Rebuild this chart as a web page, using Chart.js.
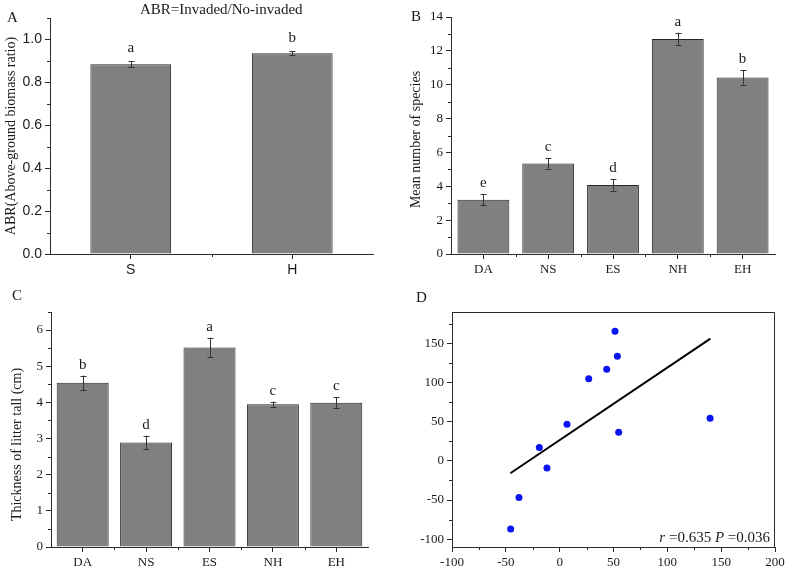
<!DOCTYPE html>
<html><head><meta charset="utf-8">
<script src="https://cdn.jsdelivr.net/npm/chart.js@4.4.0/dist/chart.umd.min.js"></script>
<style>
html,body{margin:0;padding:0;background:#fff;}
#wrap{position:relative;width:787px;height:570px;overflow:hidden;background:#fff;}
.panel{position:absolute;}
.txt{position:absolute;font-family:"Liberation Serif",serif;color:#1a1a1a;line-height:1;white-space:nowrap;}
</style></head><body>
<div id="wrap">
  <div class="panel" style="left:0;top:0"><canvas id="cA" width="390" height="280"></canvas></div>
  <div class="panel" style="left:390px;top:0"><canvas id="cB" width="397" height="280"></canvas></div>
  <div class="panel" style="left:0;top:280px"><canvas id="cC" width="390" height="290"></canvas></div>
  <div class="panel" style="left:390px;top:280px"><canvas id="cD" width="397" height="290"></canvas></div>
  <div class="txt" style="left:7px;top:10px;font-size:15px">A</div>
  <div class="txt" style="left:411px;top:9px;font-size:15px">B</div>
  <div class="txt" style="left:12px;top:288px;font-size:15px">C</div>
  <div class="txt" style="left:416px;top:290px;font-size:15px">D</div>
  <div class="txt" style="left:140px;top:2px;font-size:15px">ABR=Invaded/No-invaded</div>
</div>
<script>
// ---------- data ----------
const abrCategories = ['S', 'H'];
const abrValues = [0.885, 0.936];
const abrErrors = [0.014, 0.010];
const abrLetters = ['a', 'b'];
const abrTicks = [0, 0.2, 0.4, 0.6, 0.8, 1.0];
const abrMinorTicks = [0.1, 0.3, 0.5, 0.7, 0.9, 1.1];

const siteCategories = ['DA', 'NS', 'ES', 'NH', 'EH'];
const speciesValues = [3.2, 5.35, 4.08, 12.7, 10.43];
const speciesErrors = [0.33, 0.30, 0.33, 0.37, 0.42];
const speciesLetters = ['e', 'c', 'd', 'a', 'b'];
const speciesTicks = [0, 2, 4, 6, 8, 10, 12, 14];
const speciesMinorTicks = [1, 3, 5, 7, 9, 11, 13];

const litterValues = [4.54, 2.89, 5.52, 3.95, 3.99];
const litterErrors = [0.20, 0.19, 0.27, 0.07, 0.15];
const litterLetters = ['b', 'd', 'a', 'c', 'c'];
const litterTicks = [0, 1, 2, 3, 4, 5, 6];
const litterMinorTicks = [0.5, 1.5, 2.5, 3.5, 4.5, 5.5, 6.5];

const siteBoundaries = [0.5, 1.5, 2.5, 3.5];
const abrBoundaries = [0.5];

const scatterX = [-45.5, -37.8, -18.9, -11.8, 6.8, 27, 43.7, 51.4, 53.6, 54.8, 139.7];
const scatterY = [-87, -46.9, 17, -9, 46.8, 104.9, 116.8, 165.3, 133.4, 36.6, 54.5];
const fitLineX = [-45.8, 140];
const fitLineY = [-15.8, 156];
const corrR = '0.635';
const corrP = '0.036';
const dXTicks = [-100, -50, 0, 50, 100, 150, 200];
const dXMinorTicks = [-75, -25, 25, 75, 125, 175];
const dYTicks = [-100, -50, 0, 50, 100, 150];
const dYMinorTicks = [-75, -25, 25, 75, 125, 175];

// ---------- helpers ----------
const SERIF = '"Liberation Serif", "Times New Roman", serif';
const SANS = '"Liberation Sans", Arial, sans-serif';
const AXIS = '#2b2b2b';

function fixSize(size, ticks) {
  return {
    afterFit(scale) {
      if (scale.isHorizontal()) scale.height = size; else scale.width = size;
      scale.paddingLeft = 0; scale.paddingRight = 0; scale.paddingTop = 0; scale.paddingBottom = 0;
    },
    afterBuildTicks(scale) {
      if (ticks) scale.ticks = ticks.map(v => ({value: v}));
    }
  };
}

const minorTickPlugin = {
  id: 'minorTicks',
  afterDraw(chart, args, opts) {
    const ctx = chart.ctx;
    ctx.save();
    ctx.strokeStyle = AXIS;
    ctx.lineWidth = 1;
    for (const id of Object.keys(opts.values || {})) {
      const s = chart.scales[id];
      if (!s) continue;
      ctx.beginPath();
      opts.values[id].forEach(v => {
        const p = Math.round(s.getPixelForValue(v)) + 0.5;
        if (s.isHorizontal()) { ctx.moveTo(p, s.top); ctx.lineTo(p, s.top + 3); }
        else { ctx.moveTo(s.right, p); ctx.lineTo(s.right - 3, p); }
      });
      ctx.stroke();
    }
    ctx.restore();
  }
};

const errorBarPlugin = {
  id: 'errorBars',
  afterDatasetsDraw(chart, args, opts) {
    if (!opts.errors) return;
    const ctx = chart.ctx;
    const meta = chart.getDatasetMeta(0);
    const ys = chart.scales.y;
    const vals = chart.data.datasets[0].data;
    ctx.save();
    meta.data.forEach((bar, i) => {
      const x = Math.round(bar.x) + 0.5;
      const top = ys.getPixelForValue(vals[i] + opts.errors[i]);
      const bot = ys.getPixelForValue(vals[i] - opts.errors[i]);
      ctx.strokeStyle = '#333';
      ctx.lineWidth = 1;
      ctx.beginPath();
      ctx.moveTo(x, top); ctx.lineTo(x, bot);
      ctx.moveTo(x - 3, Math.round(top) + 0.5); ctx.lineTo(x + 3, Math.round(top) + 0.5);
      ctx.moveTo(x - 3, Math.round(bot) + 0.5); ctx.lineTo(x + 3, Math.round(bot) + 0.5);
      ctx.stroke();
      if (opts.letters) {
        ctx.fillStyle = '#1a1a1a';
        ctx.font = '15px ' + SERIF;
        ctx.textAlign = 'center';
        ctx.textBaseline = 'alphabetic';
        ctx.fillText(opts.letters[i], bar.x, top - opts.gap);
      }
    });
    ctx.restore();
  }
};

const yTitlePlugin = {
  id: 'yTitle',
  afterDraw(chart, args, o) {
    if (!o.text) return;
    const s = chart.scales.y;
    const ctx = chart.ctx;
    ctx.save();
    ctx.font = o.font;
    ctx.fillStyle = '#1a1a1a';
    ctx.textAlign = 'center';
    ctx.textBaseline = 'middle';
    ctx.translate(o.x, (s.top + s.bottom) / 2 + (o.dy || 0));
    ctx.rotate(-Math.PI / 2);
    ctx.fillText(o.text, 0, 0);
    ctx.restore();
  }
};

const boxPlugin = {
  id: 'frameBox',
  afterDraw(chart, args, o) {
    if (!o.show) return;
    const a = chart.chartArea;
    const ctx = chart.ctx;
    ctx.save();
    ctx.strokeStyle = AXIS;
    ctx.lineWidth = 1;
    ctx.beginPath();
    ctx.moveTo(Math.round(a.left) + 0.5, Math.round(a.top) + 0.5);
    ctx.lineTo(Math.round(a.right) - 0.5, Math.round(a.top) + 0.5);
    ctx.lineTo(Math.round(a.right) - 0.5, Math.round(a.bottom));
    ctx.stroke();
    if (o.stats) {
      const segs = o.stats;
      let total = 0;
      segs.forEach(sg => { ctx.font = (sg.italic ? 'italic ' : '') + '15px ' + SERIF; total += ctx.measureText(sg.t).width; });
      let x = a.right - 5 - total;
      const y = a.bottom - 5;
      ctx.fillStyle = '#1a1a1a';
      ctx.textBaseline = 'alphabetic';
      ctx.textAlign = 'left';
      segs.forEach(sg => {
        ctx.font = (sg.italic ? 'italic ' : '') + '15px ' + SERIF;
        ctx.fillText(sg.t, x, y);
        x += ctx.measureText(sg.t).width;
      });
    }
    ctx.restore();
  }
};

Chart.register(minorTickPlugin, errorBarPlugin, yTitlePlugin, boxPlugin);

function axisCommon(fontFamily, size, extra) {
  return Object.assign({
    border: {display: true, color: AXIS, width: 1},
    grid: {display: true, drawOnChartArea: false, drawTicks: true, tickLength: 5, color: AXIS, tickColor: AXIS, offset: false},
    ticks: {color: '#1a1a1a', font: {family: fontFamily, size: size}, padding: 3, maxRotation: 0, autoSkip: false}
  }, extra);
}

function barChart(id, cats, vals, errs, letters, opt) {
  return new Chart(document.getElementById(id), {
    type: 'bar',
    data: {
      labels: cats,
      datasets: [{
        data: vals,
        backgroundColor: '#808080',
        borderColor: '#262626',
        borderWidth: 1,
        barPercentage: opt.barPct,
        categoryPercentage: 1
      }]
    },
    options: {
      responsive: false,
      animation: false,
      layout: {padding: opt.padding},
      plugins: {
        legend: {display: false},
        tooltip: {enabled: false},
        minorTicks: {values: {x: opt.xMinor, y: opt.yMinor}},
        errorBars: {errors: errs, letters: letters, gap: opt.gap},
        yTitle: {text: opt.yTitle, font: '14px ' + SERIF, x: opt.titleX, dy: opt.titleDy || 0}
      },
      scales: {
        x: Object.assign(axisCommon(opt.xFont, opt.fontSize), fixSize(opt.xH, null)),
        y: Object.assign(axisCommon(opt.yFont, opt.fontSize, {min: 0, max: opt.yMax}), fixSize(opt.yW, opt.yTicks))
      }
    }
  });
}

// Panel A
const chartA = barChart('cA', abrCategories, abrValues, abrErrors, abrLetters, {
  barPct: 0.5, padding: {left: 0, top: 18, right: 17, bottom: 0},
  xMinor: abrBoundaries, yMinor: abrMinorTicks, gap: 9,
  yTitle: 'ABR(Above-ground biomass ratio)', titleX: 11,
  xFont: SANS, yFont: SANS, fontSize: 14, xH: 26, yW: 50, yMax: 1.1, yTicks: abrTicks
});
chartA.options.scales.y.ticks.callback = v => Number(v).toFixed(1);
chartA.update('none');

// Panel B
barChart('cB', siteCategories, speciesValues, speciesErrors, speciesLetters, {
  barPct: 0.8, padding: {left: 0, top: 17, right: 12, bottom: 0},
  xMinor: siteBoundaries, yMinor: speciesMinorTicks, gap: 7,
  yTitle: 'Mean number of species', titleX: 26, titleDy: 4,
  xFont: SERIF, yFont: SERIF, fontSize: 13, xH: 26, yW: 61, yMax: 14, yTicks: speciesTicks
});

// Panel C
barChart('cC', siteCategories, litterValues, litterErrors, litterLetters, {
  barPct: 0.82, padding: {left: 0, top: 32, right: 22, bottom: 0},
  xMinor: siteBoundaries, yMinor: litterMinorTicks, gap: 7,
  yTitle: 'Thickness of litter tall (cm)', titleX: 17, titleDy: 15,
  xFont: SERIF, yFont: SERIF, fontSize: 13, xH: 23, yW: 51, yMax: 6.5, yTicks: litterTicks
});

// Panel D
new Chart(document.getElementById('cD'), {
  type: 'scatter',
  data: {
    datasets: [
      {
        type: 'scatter',
        data: scatterX.map((x, i) => ({x: x, y: scatterY[i]})),
        backgroundColor: '#0a14f0',
        borderColor: '#0a14f0',
        pointRadius: 3.5,
        pointBorderWidth: 0
      },
      {
        type: 'line',
        data: fitLineX.map((x, i) => ({x: x, y: fitLineY[i]})),
        borderColor: '#000',
        borderWidth: 2,
        pointRadius: 0,
        fill: false,
        tension: 0
      }
    ]
  },
  options: {
    responsive: false,
    animation: false,
    layout: {padding: {left: 0, top: 32, right: 12, bottom: 0}},
    plugins: {
      legend: {display: false},
      tooltip: {enabled: false},
      minorTicks: {values: {x: dXMinorTicks, y: dYMinorTicks}},
      frameBox: {show: true, stats: [{t: 'r', italic: true}, {t: ' =' + corrR + ' '}, {t: 'P', italic: true}, {t: ' =' + corrP}]}
    },
    scales: {
      x: Object.assign(axisCommon(SERIF, 13, {type: 'linear', min: -100, max: 200}), fixSize(23, dXTicks)),
      y: Object.assign(axisCommon(SERIF, 13, {type: 'linear', min: -110, max: 190}), fixSize(62, dYTicks))
    }
  }
});
</script>
</body></html>
